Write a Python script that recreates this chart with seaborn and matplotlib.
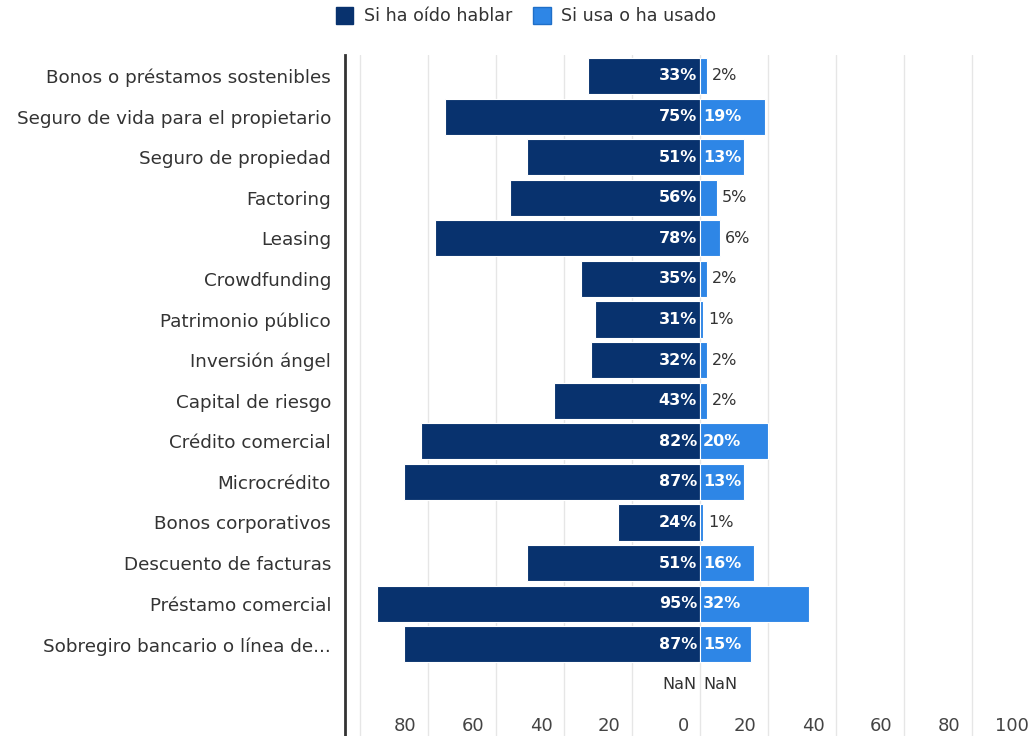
import numpy as np
import pandas as pd
import seaborn as sns
import matplotlib.pyplot as plt
from matplotlib.patches import Patch
from matplotlib.transforms import offset_copy, ScaledTranslation

categories = [
    "Bonos o préstamos sostenibles",
    "Seguro de vida para el propietario",
    "Seguro de propiedad",
    "Factoring",
    "Leasing",
    "Crowdfunding",
    "Patrimonio público",
    "Inversión ángel",
    "Capital de riesgo",
    "Crédito comercial",
    "Microcrédito",
    "Bonos corporativos",
    "Descuento de facturas",
    "Préstamo comercial",
    "Sobregiro bancario o línea de...",
    "",
]
heard = [33, 75, 51, 56, 78, 35, 31, 32, 43, 82, 87, 24, 51, 95, 87, np.nan]
used = [2, 19, 13, 5, 6, 2, 1, 2, 2, 20, 13, 1, 16, 32, 15, np.nan]
series_names = ["Si ha oído hablar", "Si usa o ha usado"]
xticks = [-100, -80, -60, -40, -20, 0, 20, 40, 60, 80, 100]
xtick_labels = ["", "80", "60", "40", "20", "0", "20", "40", "60", "80", "100"]

DARK = "#08326e"
LIGHT = "#2e86e6"
TEXT = "#333333"

sns.set_style("white")
plt.rcParams["font.family"] = ["DejaVu Sans"]

df = pd.DataFrame({"cat": categories,
                   "heard_neg": -np.array(heard, dtype=float),
                   "used": np.array(used, dtype=float)})

W, H = 1031, 736
fig = plt.figure(figsize=(W / 100, H / 100), dpi=100)
ax = fig.add_axes([345 / W, 0, (1041 - 345) / W, 681 / H])

sns.barplot(data=df, x="heard_neg", y="cat", order=categories, color=DARK,
            saturation=1, width=0.89, edgecolor="white", linewidth=0.8,
            errorbar=None, orient="h", ax=ax)
sns.barplot(data=df, x="used", y="cat", order=categories, color=LIGHT,
            saturation=1, width=0.89, edgecolor="white", linewidth=0.8,
            errorbar=None, orient="h", ax=ax)

ax.set_xlim(-104.4, 100.3)
ax.set_ylim(16.26, -0.517)
ax.set_xlabel("")
ax.set_ylabel("")

ax.set_xticks(xticks)
ax.set_xticklabels(xtick_labels)
ax.grid(axis="x", color="#e6e6e6", linewidth=1)
ax.grid(axis="y", visible=False)
ax.set_axisbelow(True)
ax.tick_params(axis="x", length=0, pad=-14, labelsize=13, labelcolor="#444444")
ax.tick_params(axis="y", length=0, pad=10, labelsize=13.2, labelcolor=TEXT)
for lab in ax.get_xticklabels():
    lab.set_ha("right")
    lab.set_transform(lab.get_transform() + ScaledTranslation(-8 / 72, 0, fig.dpi_scale_trans))

for s in ["top", "right", "bottom"]:
    ax.spines[s].set_visible(False)
ax.spines["left"].set_color(TEXT)
ax.spines["left"].set_linewidth(2)

tr_left = offset_copy(ax.transData, fig=fig, x=-3, y=0, units="dots")
tr_right_in = offset_copy(ax.transData, fig=fig, x=3, y=0, units="dots")
tr_right_out = offset_copy(ax.transData, fig=fig, x=5, y=0, units="dots")
fs = 11.5
for i, (h, u) in enumerate(zip(heard, used)):
    if np.isnan(h):
        ax.text(0, i, "NaN", ha="right", va="center", color=TEXT, fontsize=fs, transform=tr_left)
    else:
        ax.text(0, i, f"{h:.0f}%", ha="right", va="center", color="white", fontsize=fs,
                fontweight="bold", transform=tr_left)
    if np.isnan(u):
        ax.text(0, i, "NaN", ha="left", va="center", color=TEXT, fontsize=fs, transform=tr_right_in)
    elif u >= 10:
        ax.text(0, i, f"{u:.0f}%", ha="left", va="center", color="white", fontsize=fs,
                fontweight="bold", transform=tr_right_in)
    else:
        ax.text(u, i, f"{u:.0f}%", ha="left", va="center", color=TEXT, fontsize=fs,
                transform=tr_right_out)

handles = [Patch(facecolor=DARK, edgecolor=DARK), Patch(facecolor=LIGHT, edgecolor="#1f6fc8")]
fig.legend(handles, series_names, loc="upper center", bbox_to_anchor=(526 / W, 1.012),
           ncol=2, frameon=False, fontsize=12.6, handlelength=1.0, handleheight=1.1,
           columnspacing=1.2, handletextpad=0.6, labelcolor=TEXT)

fig.savefig("out.png", dpi=100)
